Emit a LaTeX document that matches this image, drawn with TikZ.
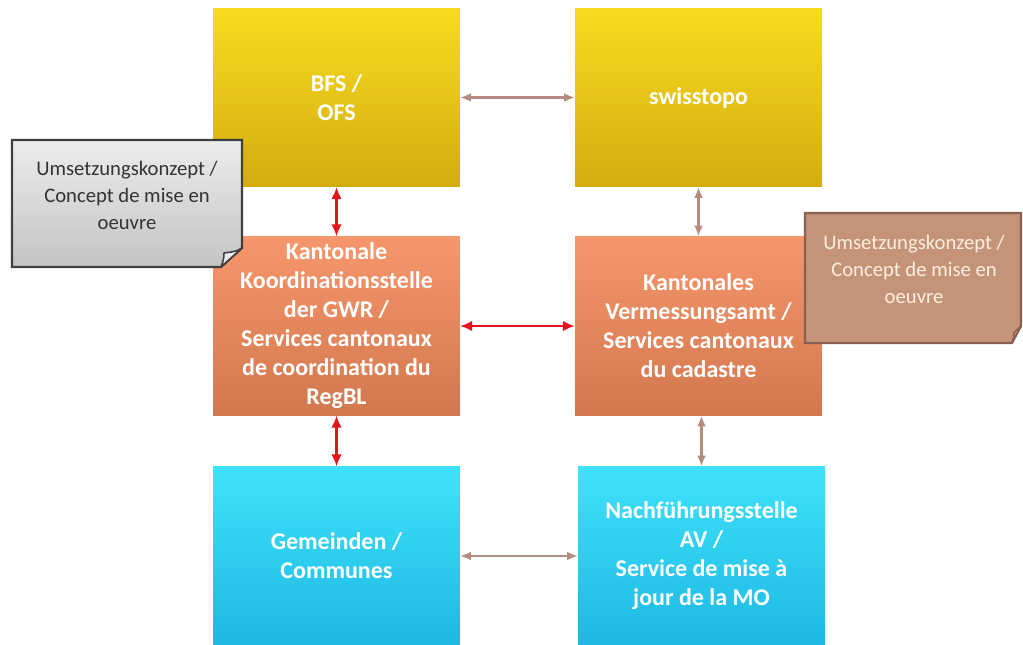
\documentclass[tikz,border=0pt]{standalone}
\usepackage{fontspec}
\setmainfont{Carlito}
\usetikzlibrary{arrows.meta}

\definecolor{yelTop}{RGB}{247,220,32}
\definecolor{yelBot}{RGB}{212,172,16}
\definecolor{oraTop}{RGB}{246,150,108}
\definecolor{oraBot}{RGB}{210,120,78}
\definecolor{cyaTop}{RGB}{64,226,250}
\definecolor{cyaBot}{RGB}{30,184,226}
\definecolor{linkRed}{RGB}{232,20,28}
\definecolor{linkBrown}{RGB}{180,140,128}
\definecolor{noteGrayTop}{RGB}{236,236,236}
\definecolor{noteGrayBot}{RGB}{196,196,196}
\definecolor{noteGrayLine}{RGB}{64,64,64}
\definecolor{noteBrown}{RGB}{196,148,120}
\definecolor{noteBrownLine}{RGB}{138,96,80}
\definecolor{noteBrownText}{RGB}{255,238,224}

\tikzset{
  box/.style={minimum width=185pt,minimum height=134pt,inner sep=2pt,align=center,
    text=white,font=\fontsize{18}{21.75}\selectfont\bfseries},
  yelbox/.style={box,top color=yelTop,bottom color=yelBot},
  orabox/.style={box,top color=oraTop,bottom color=oraBot},
  cyabox/.style={box,top color=cyaTop,bottom color=cyaBot},
  redlink/.style={{Latex[length=9pt,width=8pt]}-{Latex[length=9pt,width=8pt]},linkRed,line width=2.2pt},
  brownlink/.style={{Latex[length=8pt,width=6.5pt]}-{Latex[length=8pt,width=6.5pt]},linkBrown,line width=1.6pt},
  notetext/.style={align=center,inner sep=0pt,font=\fontsize{15.5}{20.25}\selectfont}
}

\begin{document}
\begin{tikzpicture}[x=0.75pt,y=0.75pt,yscale=-1]
\useasboundingbox (0,0) rectangle (1023,645);

% boxes
\node[yelbox] (bfs) at (336.5,97.5) {BFS /\\OFS};
\node[yelbox] (swisstopo) at (698.5,97.5) {swisstopo};
\node[orabox] (kgwr) at (336.5,326) {Kantonale\\Koordinationsstelle\\der GWR /\\Services cantonaux\\de coordination du\\RegBL};
\node[orabox] (kverm) at (698.5,326) {Kantonales\\Vermessungsamt /\\Services cantonaux\\du cadastre};
\node[cyabox] (gemeinden) at (336.5,556) {Gemeinden /\\Communes};
\node[cyabox] (nfav) at (701.5,556) {Nachführungsstelle\\AV /\\Service de mise à\\jour de la MO};

% links
\draw[brownlink] (bfs) -- (swisstopo);
\draw[redlink] (bfs) -- (kgwr);
\draw[brownlink] (swisstopo) -- (kverm);
\draw[redlink] (kgwr) -- (kverm);
\draw[redlink] (kgwr) -- (gemeinden);
\draw[brownlink] (kverm.south -| nfav) -- (nfav);
\draw[brownlink] (gemeinden) -- (nfav);

% note left
\path[draw=noteGrayLine,line width=1.6pt,top color=noteGrayTop,bottom color=noteGrayBot]
  (12,140) -- (242,140) -- (242,248) -- (221,267) -- (12,267) -- cycle;
\filldraw[draw=noteGrayLine,fill=noteGrayTop,line width=1.2pt,line join=round]
  (242,248) .. controls (234,253) and (228,252) .. (224,253) .. controls (224,258) and (223,262) .. (221,267) -- cycle;
\node[notetext,text=black!80] (noteleft) at (127,195) {Umsetzungskonzept /\\Concept de mise en\\oeuvre};

% note right
\path[draw=noteBrownLine,line width=1.6pt,fill=noteBrown]
  (805,213) -- (1021,213) -- (1021,326) -- (1012,343) -- (805,343) -- cycle;
\filldraw[draw=noteBrownLine,fill=noteBrown!80!white,line width=1.2pt,line join=round]
  (1021,326) .. controls (1017,330) and (1015,331) .. (1014,333) .. controls (1014,337) and (1013,340) .. (1012,343) -- cycle;
\node[notetext,text=noteBrownText] (noteright) at (914,269) {Umsetzungskonzept /\\Concept de mise en\\oeuvre};

\end{tikzpicture}
\end{document}
